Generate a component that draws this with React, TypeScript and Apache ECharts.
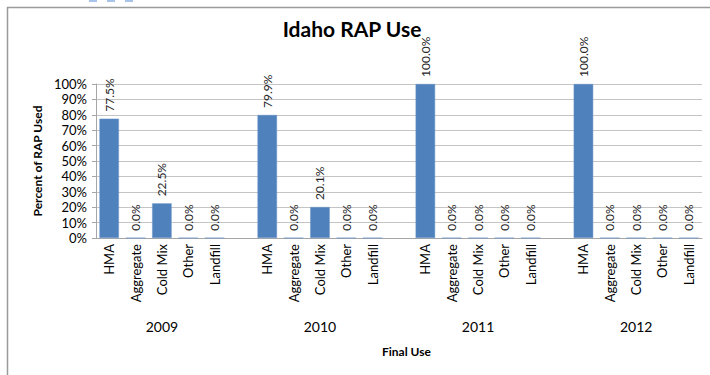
import React, { useEffect, useRef } from "react";
import * as echarts from "echarts";

const years = ["2009", "2010", "2011", "2012"];
const uses = ["HMA", "Aggregate", "Cold Mix", "Other", "Landfill"];
const values2009 = [77.5, 0.0, 22.5, 0.0, 0.0];
const values2010 = [79.9, 0.0, 20.1, 0.0, 0.0];
const values2011 = [100.0, 0.0, 0.0, 0.0, 0.0];
const values2012 = [100.0, 0.0, 0.0, 0.0, 0.0];
const yTicks = [0, 100, 10];

const FONT = "Lato, 'Open Sans', sans-serif";

export default function App() {
  const ref = useRef<HTMLDivElement>(null);
  useEffect(() => {
    if (!ref.current) return;
    const chart = echarts.init(ref.current, null, { renderer: "svg" });
    const groups = [values2009, values2010, values2011, values2012];
    const cats: string[] = [];
    const yearCats: string[] = [];
    const data: (number | string)[] = [];
    groups.forEach((vals, gi) => {
      uses.forEach((u, i) => {
        cats.push(u);
        yearCats.push(i === 2 ? years[gi] : "");
        data.push(vals[i]);
      });
      if (gi < groups.length - 1) {
        cats.push("");
        yearCats.push("");
        data.push("-");
      }
    });
    chart.setOption({
      animation: false,
      textStyle: { fontFamily: FONT },
      title: {
        text: "Idaho RAP Use",
        left: 347,
        textAlign: "center",
        top: 13,
        textStyle: { fontFamily: FONT, fontSize: 21, fontWeight: "bold", color: "#000" },
      },
      grid: { left: 96, right: 8, top: 84, bottom: 137, containLabel: false },
      xAxis: [
        {
          type: "category",
          data: cats,
          axisLine: { show: true, lineStyle: { color: "#a6a6a6" } },
          axisTick: { show: false },
          axisLabel: {
            rotate: 90,
            interval: 0,
            margin: 6,
            fontSize: 13,
            color: "#000",
            fontFamily: FONT,
          },
        },
        {
          type: "category",
          data: yearCats,
          position: "bottom",
          offset: 81,
          axisLine: { show: false },
          axisTick: { show: false },
          axisLabel: { interval: 0, margin: 0, fontSize: 14, color: "#000", fontFamily: FONT },
        },
      ],
      yAxis: {
        type: "value",
        min: yTicks[0],
        max: yTicks[1],
        interval: yTicks[2],
        name: "Percent of RAP Used",
        nameLocation: "middle",
        nameGap: 53,
        nameTextStyle: { fontSize: 12, fontWeight: "bold", color: "#000", fontFamily: FONT },
        axisLine: { show: true, lineStyle: { color: "#a6a6a6" } },
        axisTick: { show: true, length: 4, lineStyle: { color: "#a6a6a6" } },
        axisLabel: { formatter: "{value}%", fontSize: 13, color: "#000", margin: 9, fontFamily: FONT },
        splitLine: { show: true, lineStyle: { color: "#c4c4c4" } },
      },
      series: [
        {
          type: "bar",
          data,
          xAxisIndex: 0,
          barCategoryGap: "26%",
          itemStyle: { color: "#4f81bd", borderColor: "#6d97c9", borderWidth: 0.5 },
          label: {
            show: true,
            position: "top",
            rotate: 90,
            align: "left",
            verticalAlign: "middle",
            distance: 7,
            fontSize: 12,
            color: "#262626",
            fontFamily: FONT,
            formatter: (p: any) => Number(p.value).toFixed(1) + "%",
          },
        },
      ],
      graphic: [
        { type: "line", shape: { x1: 7.5, y1: 7, x2: 7.5, y2: 375 }, style: { stroke: "#9a9a9a", lineWidth: 1.5 } },
        { type: "line", shape: { x1: 7, y1: 7.5, x2: 710, y2: 7.5 }, style: { stroke: "#9a9a9a", lineWidth: 1.5 } },
        { type: "rect", shape: { x: 89, y: 0, width: 8, height: 2 }, style: { fill: "#a9c4ec" } },
        { type: "rect", shape: { x: 107, y: 0, width: 8, height: 2 }, style: { fill: "#a9c4ec" } },
        { type: "rect", shape: { x: 125, y: 0, width: 8, height: 2 }, style: { fill: "#a9c4ec" } },
        {
          type: "text",
          left: 382,
          top: 345,
          style: { text: "Final Use", fontSize: 12, fontWeight: "bold", fill: "#000", fontFamily: FONT },
        },
      ],
    });
    return () => chart.dispose();
  }, []);
  return (
    <div
      ref={ref}
      style={{ position: "fixed", left: 0, top: 0, width: 710, height: 375, background: "#fff" }}
    />
  );
}
